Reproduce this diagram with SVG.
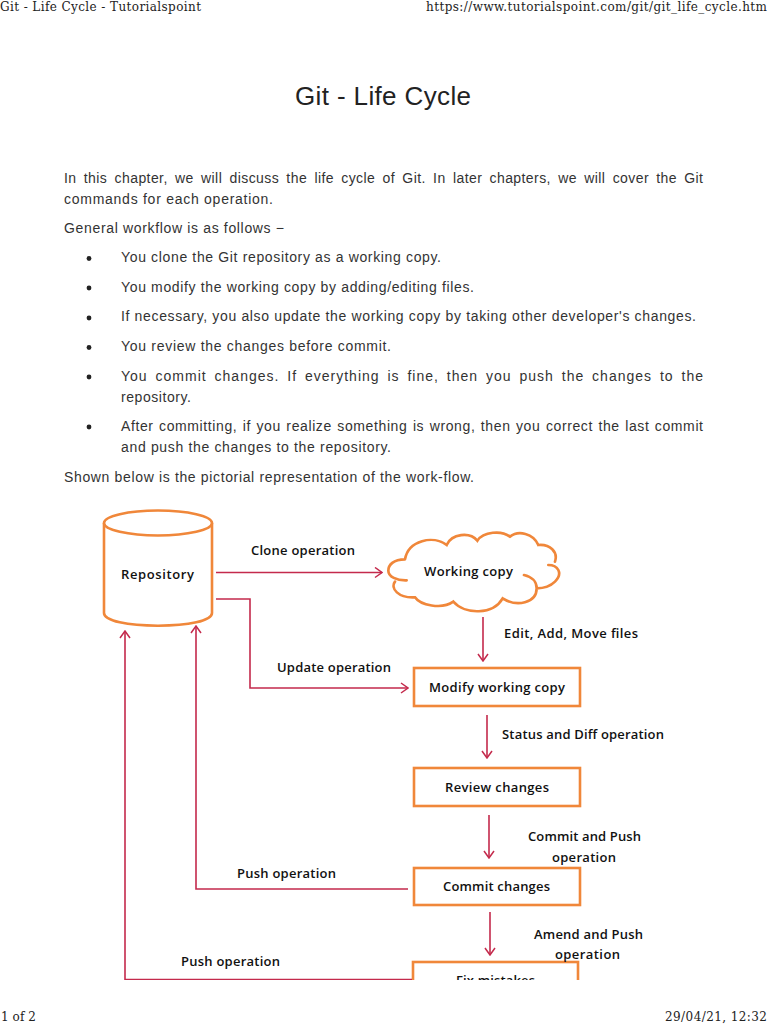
<svg xmlns="http://www.w3.org/2000/svg" width="768" height="1024" viewBox="0 0 768 1024">
<style>
.h{font-family:"DejaVu Serif",serif;font-size:12px;fill:#222}
.b{font-family:"Liberation Sans",Arial,sans-serif;font-size:14px;fill:#333}
.t{font-family:"Liberation Sans",Arial,sans-serif;font-size:26px;fill:#222}
.l{font-family:"Open Sans","Noto Sans",sans-serif;font-size:13px;font-weight:600;fill:#111}
.n{fill:#fff;stroke:#f0873a;stroke-width:2.6}
.c{fill:none;stroke:#c42a4c;stroke-width:1.6;marker-end:url(#a)}
</style>
<defs>
<marker id="a" viewBox="0 0 10 12" refX="9" refY="6" markerWidth="10" markerHeight="12" markerUnits="userSpaceOnUse" orient="auto"><path d="M2 1L9 6L2 11" fill="none" stroke="#c42a4c" stroke-width="1.5"/></marker>
<clipPath id="p"><rect x="0" y="0" width="768" height="980"/></clipPath>
</defs>
<rect width="768" height="1024" fill="#fff"/>
<g id="page-text">
<text class="h" x="0" y="11" textLength="201">Git - Life Cycle - Tutorialspoint</text>
<text class="h" x="426" y="11" textLength="341">https://www.tutorialspoint.com/git/git_life_cycle.htm</text>
<text class="t" x="295" y="105" textLength="176">Git - Life Cycle</text>
<text class="b" x="64" y="183" word-spacing="3" textLength="639">In this chapter, we will discuss the life cycle of Git. In later chapters, we will cover the Git</text>
<text class="b" x="64" y="204" textLength="209">commands for each operation.</text>
<text class="b" x="64" y="233" textLength="220">General workflow is as follows −</text>
<circle cx="89" cy="258.5" r="2.4" fill="#222"/>
<text class="b" x="121" y="262" textLength="320">You clone the Git repository as a working copy.</text>
<circle cx="89" cy="288" r="2.4" fill="#222"/>
<text class="b" x="121" y="292" textLength="353">You modify the working copy by adding/editing files.</text>
<circle cx="89" cy="318" r="2.4" fill="#222"/>
<text class="b" x="121" y="321" textLength="575">If necessary, you also update the working copy by taking other developer's changes.</text>
<circle cx="89" cy="347.5" r="2.4" fill="#222"/>
<text class="b" x="121" y="351" textLength="270">You review the changes before commit.</text>
<circle cx="89" cy="377" r="2.4" fill="#222"/>
<text class="b" x="121" y="381" word-spacing="3" textLength="582">You commit changes. If everything is fine, then you push the changes to the</text>
<text class="b" x="121" y="402" textLength="70">repository.</text>
<circle cx="89" cy="427" r="2.4" fill="#222"/>
<text class="b" x="121" y="431" word-spacing="1" textLength="582">After committing, if you realize something is wrong, then you correct the last commit</text>
<text class="b" x="121" y="452" textLength="270">and push the changes to the repository.</text>
<text class="b" x="64" y="482" textLength="410">Shown below is the pictorial representation of the work-flow.</text>
<text class="h" x="1" y="1021" textLength="35">1 of 2</text>
<text class="h" x="665" y="1021" textLength="102">29/04/21, 12:32</text>
</g>
<g clip-path="url(#p)">
<g id="repository">
<path class="n" d="M104 523V613C104 621 128 625.7 158 625.7C188 625.7 212 621 212 613V523"/>
<ellipse class="n" cx="158" cy="523" rx="54" ry="12.5"/>
<text class="l" x="121" y="579" textLength="73">Repository</text>
</g>
<g id="working-copy">
<path transform="translate(370 520) scale(.3333)" fill="#fff" stroke="#f0873a" stroke-width="8" stroke-linecap="round" d="M105 118C70 118 55 135 55 152C55 170 80 182 110 181M75 185C60 205 85 235 135 232C150 255 215 270 250 245C285 285 370 285 398 235C440 262 500 250 500 205C550 205 575 170 565 150C560 140 550 135 535 135M555 125C565 95 540 72 505 75C490 40 445 30 420 50C395 30 340 35 322 62C300 35 245 40 230 75C190 45 115 60 105 118M462 165C485 170 500 185 500 205"/>
<text class="l" x="424" y="576" textLength="89">Working copy</text>
</g>
<g id="modify-working-copy">
<rect class="n" x="414" y="668" width="166" height="38"/>
<text class="l" x="429" y="692" textLength="136">Modify working copy</text>
</g>
<g id="review-changes">
<rect class="n" x="414" y="768" width="166" height="38"/>
<text class="l" x="445" y="792" textLength="104">Review changes</text>
</g>
<g id="commit-changes">
<rect class="n" x="414" y="868" width="166" height="37"/>
<text class="l" x="443" y="891" textLength="107">Commit changes</text>
</g>
<g id="fix-mistakes">
<rect class="n" x="413" y="962" width="165" height="38"/>
<text class="l" x="456" y="985" textLength="79">Fix mistakes</text>
</g>
<g id="connectors">
<path class="c" d="M216 572.5H382"/>
<path class="c" d="M216 599H250V688H408"/>
<path class="c" d="M483 617V661"/>
<path class="c" d="M487 715V758"/>
<path class="c" d="M489 815V858"/>
<path class="c" d="M490 912V955"/>
<path class="c" d="M408 889H196V626"/>
<path class="c" d="M412 979.5H125V631"/>
</g>
<g id="labels">
<text class="l" x="251" y="555" textLength="104">Clone operation</text>
<text class="l" x="277" y="672" textLength="114">Update operation</text>
<text class="l" x="504" y="638" textLength="134">Edit, Add, Move files</text>
<text class="l" x="502" y="739" textLength="162">Status and Diff operation</text>
<text class="l" x="528" y="841" textLength="113">Commit and Push</text>
<text class="l" x="552" y="862" textLength="64">operation</text>
<text class="l" x="534" y="939" textLength="109">Amend and Push</text>
<text class="l" x="555" y="959" textLength="65">operation</text>
<text class="l" x="237" y="878" textLength="99">Push operation</text>
<text class="l" x="181" y="966" textLength="99">Push operation</text>
</g>
</g>
</svg>
